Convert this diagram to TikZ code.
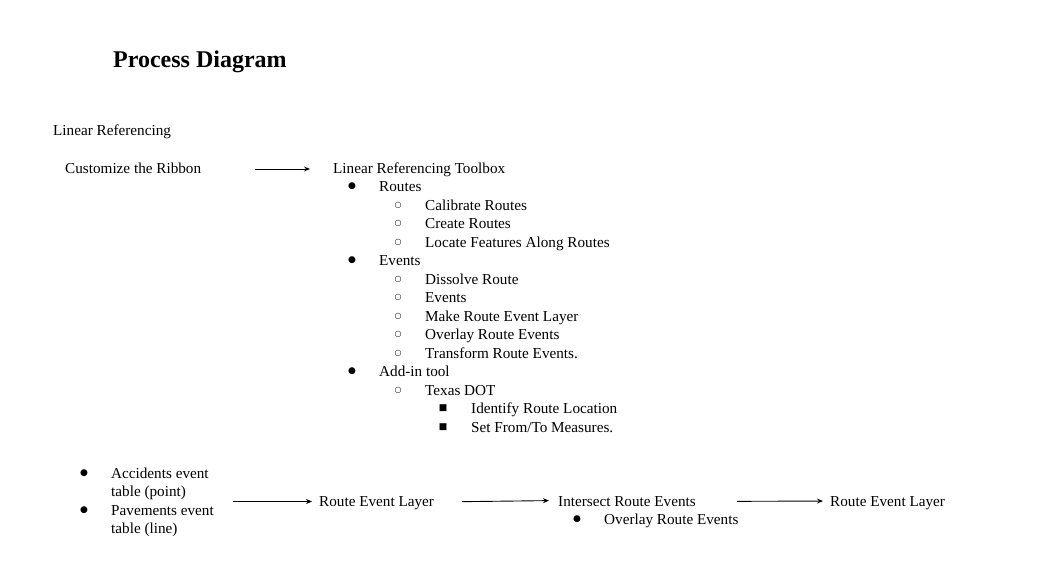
\documentclass[tikz,border=0pt]{standalone}
\usepackage{fontspec}
\setmainfont{Liberation Serif}
\newfontfamily\symf{DejaVu Sans}
\usetikzlibrary{arrows.meta}
\begin{document}
\begin{tikzpicture}[x=1pt,y=-1pt,
  txt/.style={anchor=base west, inner sep=0pt, font=\fontsize{15.2}{18}\selectfont},
  ttl/.style={anchor=base west, inner sep=0pt, font=\bfseries\fontsize{24}{28}\selectfont},
  bdot/.style={inner sep=0pt, font=\symf\fontsize{9}{9}\selectfont},
  bcirc/.style={inner sep=0pt, font=\symf\fontsize{8}{8}\selectfont},
  bsq/.style={inner sep=0pt, font=\symf\fontsize{9}{9}\selectfont},
  arr/.style={-{Stealth[length=6pt,width=5pt]}, line width=0.9pt}]
\useasboundingbox[fill=white] (0,0) rectangle (1047,562);

\node[ttl] (title) at (113,67) {Process Diagram};
\node[txt] (lr) at (53,135) {Linear Referencing};
\node[txt] (cust) at (65,173) {Customize the Ribbon};
\node[txt] (lrt) at (333,173) {Linear Referencing Toolbox};

% level 1
\node[bdot] (b1) at (352,186.5) {●};
\node[txt] (routes) at (379,191.5) {Routes};
\node[bcirc] (c1) at (398,205) {○};
\node[txt] (cal) at (425,210) {Calibrate Routes};
\node[bcirc] (c2) at (398,223.5) {○};
\node[txt] (cre) at (425,228.5) {Create Routes};
\node[bcirc] (c3) at (398,242) {○};
\node[txt] (loc) at (425,247) {Locate Features Along Routes};
\node[bdot] (b2) at (352,260.5) {●};
\node[txt] (events) at (379,265.5) {Events};
\node[bcirc] (c4) at (398,279) {○};
\node[txt] (dis) at (425,284) {Dissolve Route};
\node[bcirc] (c5) at (398,297.5) {○};
\node[txt] (ev2) at (425,302.5) {Events};
\node[bcirc] (c6) at (398,316) {○};
\node[txt] (mak) at (425,321) {Make Route Event Layer};
\node[bcirc] (c7) at (398,334.5) {○};
\node[txt] (ovl) at (425,339.5) {Overlay Route Events};
\node[bcirc] (c8) at (398,353) {○};
\node[txt] (trf) at (425,358) {Transform Route Events.};
\node[bdot] (b3) at (352,371.5) {●};
\node[txt] (addin) at (379,376.5) {Add-in tool};
\node[bcirc] (c9) at (398,390) {○};
\node[txt] (tx) at (425,395) {Texas DOT};
\node[bsq] (s1) at (443,408.5) {■};
\node[txt] (idr) at (471,413.5) {Identify Route Location};
\node[bsq] (s2) at (443,427) {■};
\node[txt] (sft) at (471,432) {Set From/To Measures.};

% bottom
\node[bdot] (b4) at (84,473) {●};
\node[txt] (acc1) at (111,478) {Accidents event};
\node[txt] (acc2) at (111,496.5) {table (point)};
\node[bdot] (b5) at (84,510) {●};
\node[txt] (pav1) at (111,515) {Pavements event};
\node[txt] (pav2) at (111,533.5) {table (line)};
\coordinate (lst) at (233,501.5);
\node[txt] (rel1) at (319,506) {Route Event Layer};
\node[txt] (ire) at (558,506) {Intersect Route Events};
\node[bdot] (b6) at (577,519.5) {●};
\node[txt] (ore) at (604,524.5) {Overlay Route Events};
\node[txt] (rel2) at (830,506) {Route Event Layer};

% connectors
\draw[arr, shorten <=54pt, shorten >=23pt] ([yshift=4pt]cust.base east) -- ([yshift=4pt]lrt.base west);
\draw[arr, shorten >=7pt] (lst) -- ([yshift=4.5pt]rel1.base west);
\draw[arr, shorten <=28pt, shorten >=9pt] ([yshift=4pt]rel1.base east) -- ([yshift=5.5pt]ire.base west);
\draw[arr, shorten <=41pt, shorten >=7pt] ([yshift=4.5pt]ire.base east) -- ([yshift=5pt]rel2.base west);
\end{tikzpicture}
\end{document}
